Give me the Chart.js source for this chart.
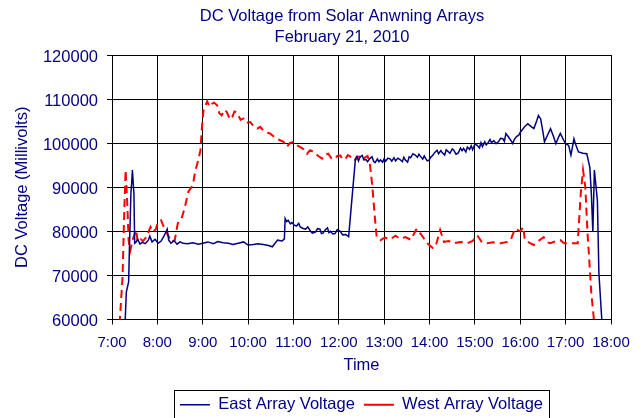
<!DOCTYPE html>
<html>
<head>
<meta charset="utf-8">
<title>DC Voltage from Solar Anwning Arrays</title>
<script src="https://cdn.jsdelivr.net/npm/chart.js@4"></script>
<style>
  html, body { margin: 0; padding: 0; background: #fff; }
  #wrap { width: 642px; height: 418px; }
</style>
</head>
<body>
<div id="wrap"><canvas id="voltageChart"></canvas></div>
<script>
const titleLines = ['DC Voltage from Solar Anwning Arrays', 'February 21, 2010'];

const eastTimes = [
  '7:17', '7:19', '7:22', '7:23', '7:25', '7:26', '7:27', '7:29', '7:30', '7:32',
  '7:34', '7:37', '7:40', '7:44', '7:48', '7:50', '7:53', '7:57', '8:01', '8:05',
  '8:09', '8:13', '8:15', '8:18', '8:22', '8:26', '8:30', '8:34', '8:40', '8:47',
  '8:54', '9:00', '9:07', '9:14', '9:20', '9:27', '9:34', '9:40', '9:47', '9:54',
  '10:00', '10:07', '10:13', '10:20', '10:27', '10:32', '10:39', '10:45', '10:48', '10:49',
  '10:51', '10:53', '10:56', '10:58', '11:01', '11:04', '11:07', '11:09', '11:12', '11:16',
  '11:19', '11:22', '11:25', '11:29', '11:32', '11:35', '11:37', '11:39', '11:42', '11:45',
  '11:47', '11:49', '11:52', '11:55', '11:58', '12:02', '12:05', '12:09', '12:13', '12:22',
  '12:24', '12:26', '12:28', '12:31', '12:33', '12:36', '12:38', '12:41', '12:44', '12:46',
  '12:48', '12:51', '12:53', '12:55', '12:58', '13:00', '13:02', '13:05', '13:08', '13:10',
  '13:13', '13:15', '13:18', '13:21', '13:24', '13:26', '13:28', '13:31', '13:33', '13:35',
  '13:38', '13:41', '13:44', '13:46', '13:48', '13:51', '13:53', '13:55', '13:57', '13:59',
  '14:02', '14:04', '14:07', '14:10', '14:12', '14:15', '14:17', '14:20', '14:22', '14:24',
  '14:27', '14:30', '14:32', '14:35', '14:38', '14:41', '14:43', '14:45', '14:48', '14:50',
  '14:53', '14:55', '14:57', '15:00', '15:03', '15:06', '15:08', '15:10', '15:13', '15:15',
  '15:17', '15:20', '15:22', '15:25', '15:28', '15:31', '15:34', '15:37', '15:39', '15:41',
  '15:44', '15:46', '15:48', '15:50', '15:52', '15:55', '15:58', '16:00', '16:03', '16:06',
  '16:10', '16:14', '16:18', '16:22', '16:24', '16:27', '16:30', '16:32', '16:36', '16:40',
  '16:44', '16:47', '16:51', '16:53', '16:57', '17:00', '17:04', '17:07', '17:11', '17:13',
  '17:17', '17:23', '17:28', '17:32', '17:34', '17:36', '17:38', '17:42', '17:44', '17:48',
];
const eastValues = [
  58000, 66300, 68500, 75700, 88600, 90900, 93900, 88600, 77300, 77600,
  78200, 77100, 77500, 77200, 78000, 78900, 77600, 78200, 77300, 77800,
  79000, 80500, 78000, 77300, 77900, 77100, 77600, 77300, 77200, 77400,
  77100, 77300, 77600, 77200, 77700, 77400, 77300, 77000, 77300, 77600,
  76900, 77000, 77200, 77000, 76800, 76500, 78000, 77800, 78300, 82900,
  82200, 82500, 81700, 82000, 81400, 81200, 81800, 81000, 80700, 80500,
  81000, 80200, 79600, 79800, 80600, 80500, 79500, 79600, 80300, 80800,
  79700, 80000, 79400, 79500, 80400, 80000, 79200, 79300, 78800, 96500,
  97000, 96000, 96800, 97200, 96200, 96300, 95800, 96500, 96900, 95900,
  95600, 96400, 95800, 96200, 95700, 96500, 95900, 96600, 96400, 95900,
  96700, 96000, 96600, 96300, 95800, 96800, 96200, 95700, 96900, 96700,
  97600, 97300, 96800, 97500, 97000, 96400, 97100, 96500, 96000, 96100,
  96900, 97200, 97900, 98400, 97600, 98300, 97800, 97300, 98500, 98200,
  97700, 98700, 98400, 97500, 97800, 98900, 98300, 98800, 98000, 99100,
  98600, 99400, 98500, 99800, 99500, 98900, 100100, 99200, 100300, 99600,
  100000, 100800, 100100, 100600, 99900, 100300, 101100, 101000, 100400, 102200,
  101500, 101000, 100500, 99900, 100800, 101500, 101800, 102500, 103100, 103800,
  104400, 103800, 103300, 105200, 106300, 105500, 102500, 100300, 101800, 103300,
  101500, 99900, 101500, 102200, 100800, 99900, 99500, 97300, 101000, 99800,
  98000, 97700, 97600, 94500, 88600, 79900, 93900, 87000, 70500, 59500,
];

const westTimes = [
  '7:10', '7:14', '7:16', '7:18', '7:20', '7:22', '7:24', '7:28', '7:32', '7:34',
  '7:38', '7:41', '7:45', '7:51', '7:54', '7:58', '8:01', '8:05', '8:10', '8:14',
  '8:19', '8:23', '8:27', '8:32', '8:36', '8:41', '8:47', '8:50', '8:54', '8:57',
  '8:59', '9:01', '9:06', '9:09', '9:12', '9:15', '9:19', '9:22', '9:25', '9:29',
  '9:32', '9:36', '9:39', '9:42', '9:45', '9:50', '9:54', '9:58', '10:03', '10:07',
  '10:12', '10:16', '10:20', '10:25', '10:29', '10:34', '10:38', '10:43', '10:47', '10:51',
  '10:55', '11:00', '11:05', '11:09', '11:14', '11:18', '11:22', '11:27', '11:32', '11:38',
  '11:42', '11:46', '11:50', '11:55', '11:58', '12:02', '12:05', '12:09', '12:12', '12:15',
  '12:18', '12:22', '12:25', '12:29', '12:32', '12:35', '12:38', '12:41', '12:44', '12:48',
  '12:50', '12:55', '13:01', '13:08', '13:15', '13:21', '13:28', '13:35', '13:38', '13:43',
  '13:48', '13:57', '14:05', '14:09', '14:14', '14:19', '14:25', '14:32', '14:41', '14:50',
  '14:57', '15:03', '15:09', '15:16', '15:24', '15:34', '15:43', '15:47', '15:53', '16:00',
  '16:04', '16:06', '16:13', '16:18', '16:24', '16:31', '16:36', '16:40', '16:47', '16:53',
  '16:58', '17:16', '17:20', '17:23', '17:26', '17:29', '17:31', '17:34', '17:38',
];
const westValues = [
  59000, 69700, 83300, 93900, 87100, 78000, 75500, 78500, 80300, 77600,
  78200, 77800, 78600, 81000, 79900, 80500, 82200, 82500, 80300, 79100,
  77600, 78000, 81800, 82900, 85200, 89000, 90500, 93600, 96100, 98400,
  103700, 107400, 109500, 108300, 108900, 109200, 108600, 106800, 106300, 107600,
  107000, 105400, 105900, 107200, 107000, 105300, 105600, 104600, 104800, 103900,
  103300, 103700, 102900, 102400, 102200, 101500, 101000, 100600, 100300, 99100,
  100000, 100300, 99500, 99100, 98600, 97600, 98400, 98000, 97200, 96500,
  97400, 97600, 96600, 96400, 97100, 97200, 96300, 96500, 97300, 97000,
  96100, 96200, 96900, 97000, 96300, 96800, 97100, 95400, 90800, 82500,
  78800, 78000, 78600, 78200, 79000, 78300, 78700, 78100, 79000, 80600,
  79500, 77300, 76100, 77200, 80300, 77600, 77800, 77300, 77600, 77300,
  77800, 79100, 77600, 77300, 77500, 77300, 77600, 77900, 80600, 80000,
  81000, 78000, 77300, 76900, 77800, 78700, 77500, 77300, 77800, 78000,
  77300, 77300, 88600, 93900, 90100, 79500, 74200, 65900, 59000,
];

const NAVY = '#000080';
const FONT = '"Liberation Sans", Arial, sans-serif';

function toHours(t) {
  const [h, m] = t.split(':').map(Number);
  return h + m / 60;
}

function toPoints(times, values) {
  return times.map((t, i) => ({ x: toHours(t), y: values[i] }));
}

// two-line title, centred a little left of the plot like the original
const chartTitle = {
  id: 'chartTitle',
  afterDraw(chart) {
    const { ctx } = chart;
    ctx.save();
    ctx.fillStyle = NAVY;
    ctx.font = '16.5px ' + FONT;
    ctx.textAlign = 'center';
    ctx.textBaseline = 'alphabetic';
    ctx.fillText(titleLines[0], 342, 21);
    ctx.fillText(titleLines[1], 342, 42);
    ctx.restore();
  },
};

// Excel style frame round the legend
const legendFrame = {
  id: 'legendFrame',
  afterDraw(chart) {
    const boxes = chart.legend && chart.legend.legendHitBoxes;
    if (!boxes || !boxes.length) return;
    const left = Math.min(...boxes.map(b => b.left)) - 6;
    const right = Math.max(...boxes.map(b => b.left + b.width)) + 6;
    const top = boxes[0].top - 7;
    const bottom = boxes[0].top + boxes[0].height + 5;
    const { ctx } = chart;
    ctx.save();
    ctx.strokeStyle = '#000';
    ctx.lineWidth = 1;
    ctx.strokeRect(Math.round(left) + 0.5, Math.round(top) + 0.5, Math.round(right - left), Math.round(bottom - top));
    ctx.restore();
  },
};

Chart.defaults.font.family = FONT;

const ctx = document.getElementById('voltageChart').getContext('2d');
const chart = new Chart(ctx, {
  type: 'line',
  data: {
    datasets: [
      {
        label: 'East Array Voltage',
        data: toPoints(eastTimes, eastValues),
        borderColor: NAVY,
        backgroundColor: NAVY,
        borderWidth: 1.5,
        tension: 0,
        pointRadius: 0,
      },
      {
        label: 'West Array Voltage',
        data: toPoints(westTimes, westValues),
        borderColor: '#ff0000',
        backgroundColor: '#ff0000',
        borderWidth: 2,
        borderDash: [8, 5],
        tension: 0,
        pointRadius: 0,
      },
    ],
  },
  options: {
    responsive: true,
    maintainAspectRatio: false,
    animation: false,
    devicePixelRatio: 1,
    layout: { padding: { left: 8, right: 31, top: 55, bottom: -5 } },
    scales: {
      x: {
        type: 'linear',
        min: 7,
        max: 18,
        afterFit: (s) => { s.height = 68; },
        ticks: {
          stepSize: 1,
          autoSkip: false,
          maxRotation: 0,
          color: NAVY,
          font: { size: 15 },
          padding: 9,
          callback: (v) => v + ':00',
        },
        grid: { color: '#000', tickColor: '#000', tickLength: 5 },
        border: { color: '#000' },
        title: {
          display: true,
          text: 'Time',
          color: NAVY,
          font: { size: 16.5 },
          padding: { top: 0, bottom: 12 },
        },
      },
      y: {
        min: 60000,
        max: 120000,
        afterFit: (s) => { s.width = 104; },
        ticks: {
          stepSize: 10000,
          color: NAVY,
          font: { size: 16.5 },
          padding: 9,
          labelOffset: 2,
          callback: (v) => String(v),
        },
        grid: { color: '#000', tickColor: '#000', tickLength: 5 },
        border: { color: '#000' },
        title: {
          display: true,
          text: 'DC Voltage (Millivolts)',
          color: NAVY,
          font: { size: 16.5 },
          padding: { top: 5, bottom: 0 },
        },
      },
    },
    plugins: {
      title: { display: false },
      tooltip: { enabled: false },
      legend: {
        position: 'bottom',
        fullSize: false,
        labels: {
          color: NAVY,
          font: { size: 16.5 },
          usePointStyle: true,
          pointStyle: 'line',
          pointStyleWidth: 30,
          padding: 9,
        },
      },
    },
  },
  plugins: [chartTitle, legendFrame],
});
</script>
</body>
</html>
